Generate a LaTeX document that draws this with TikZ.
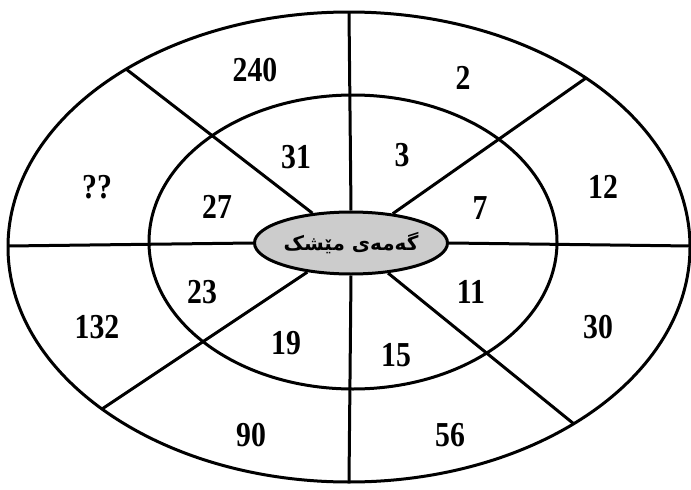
\documentclass[tikz,border=0pt]{standalone}
\usepackage{fontspec}
\usepackage{tikz}
\usetikzlibrary{shapes.geometric}
\setmainfont{Liberation Serif}
\newfontfamily\numfont[FakeStretch=0.85]{Liberation Serif}
\newfontfamily\arabicfont[Script=Arabic]{DejaVu Sans}
\TeXXeTstate=1

\begin{document}
\begin{tikzpicture}[x=1pt,y=-1pt,
  ring/.style={line width=3pt},
  num/.style={font=\numfont\fontsize{35}{35}\selectfont\bfseries},
  hub/.style={ellipse,draw,line width=3pt,fill=gray!40,minimum width=193pt,minimum height=62pt,inner sep=0pt}]
				\useasboundingbox (0,0) rectangle (691,490);
				\draw[ring] (349,247) ellipse [x radius=341, y radius=235];
				\draw[ring] (353,242) ellipse [x radius=204, y radius=147];
				
				\coordinate (top) at (349,12);
				\coordinate (bot) at (349,482);
				\coordinate (lft) at (8,246);
				\coordinate (rgt) at (691,246);
				\coordinate (ul) at (126,69);
				\coordinate (ur) at (586,78);
				\coordinate (ll) at (102,409);
				\coordinate (lr) at (574,424);
				
				\node[hub] (cen) at (351,243) {\arabicfont\bfseries\fontsize{20}{20}\selectfont\beginR گەمەی مێشک\endR};
				
				\draw[ring] (cen.north) -- (top);
				\draw[ring] (cen.south) -- (bot);
				\draw[ring] (cen.west) -- (lft);
				\draw[ring] (cen.east) -- (rgt);
				\draw[ring] (cen) -- (ul);
				\draw[ring] (cen) -- (ur);
				\draw[ring] (cen) -- (ll);
				\draw[ring] (cen) -- (lr);
				
				\node[num] (n240) at (255,70) {240};
				\node[num] (n2) at (463,78) {2};
				\node[num] (nq) at (97,187) {??};
				\node[num] (n12) at (603,187) {12};
				\node[num] (n132) at (97,327) {132};
				\node[num] (n30) at (598,327) {30};
				\node[num] (n90) at (251,435) {90};
				\node[num] (n56) at (450,435) {56};
				
				\node[num] (n31) at (296,157) {31};
				\node[num] (n3) at (402,155) {3};
				\node[num] (n27) at (217,207) {27};
				\node[num] (n7) at (480,208) {7};
				\node[num] (n23) at (202,292) {23};
				\node[num] (n11) at (471,292) {11};
				\node[num] (n19) at (286,343) {19};
				\node[num] (n15) at (396,355) {15};
			\end{tikzpicture}
\end{document}
